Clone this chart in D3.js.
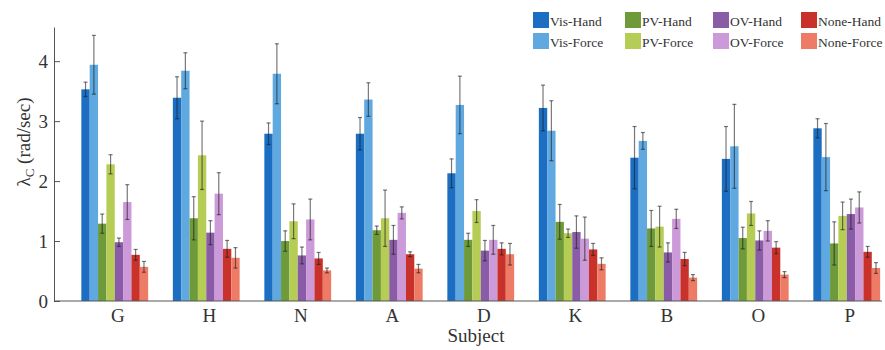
<!DOCTYPE html>
<html>
<head>
<meta charset="utf-8">
<script src="https://cdn.jsdelivr.net/npm/d3@7"></script>
<style>
  body { margin: 0; background: #fff; }
  text { font-family: "Liberation Serif", "Times New Roman", serif; fill: #333; }
</style>
</head>
<body>
<div id="chart"></div>
<script>
var subjects = ["G", "H", "N", "A", "D", "K", "B", "O", "P"];
var conditions = ["Vis-Hand", "Vis-Force", "PV-Hand", "PV-Force", "OV-Hand", "OV-Force", "None-Hand", "None-Force"];
var colors = ["#1b6ec2", "#5fa8e0", "#6e9a3a", "#b5cc55", "#8a5ca8", "#cc9ad8", "#c8322a", "#ee7b65"];

// mean per subject, in the order of conditions
var means = [
  [3.53, 3.94, 1.29, 2.28, 0.98, 1.65, 0.77, 0.57],
  [3.39, 3.84, 1.38, 2.43, 1.14, 1.79, 0.87, 0.72],
  [2.79, 3.79, 1.00, 1.33, 0.76, 1.36, 0.71, 0.51],
  [2.79, 3.36, 1.18, 1.38, 1.02, 1.47, 0.78, 0.54],
  [2.13, 3.27, 1.02, 1.50, 0.84, 1.02, 0.87, 0.78],
  [3.22, 2.84, 1.32, 1.13, 1.15, 1.04, 0.86, 0.62],
  [2.39, 2.67, 1.21, 1.24, 0.81, 1.37, 0.70, 0.39],
  [2.37, 2.58, 1.05, 1.46, 1.01, 1.17, 0.89, 0.44],
  [2.88, 2.40, 0.96, 1.42, 1.45, 1.56, 0.82, 0.55]
];
// error bar half length
var errs = [
  [0.12, 0.49, 0.16, 0.16, 0.07, 0.29, 0.09, 0.09],
  [0.35, 0.30, 0.36, 0.57, 0.20, 0.35, 0.14, 0.17],
  [0.18, 0.50, 0.17, 0.29, 0.14, 0.34, 0.10, 0.04],
  [0.27, 0.28, 0.07, 0.47, 0.24, 0.10, 0.04, 0.07],
  [0.24, 0.48, 0.11, 0.19, 0.17, 0.24, 0.10, 0.18],
  [0.38, 0.50, 0.29, 0.07, 0.27, 0.36, 0.10, 0.10],
  [0.52, 0.14, 0.30, 0.34, 0.16, 0.16, 0.11, 0.05],
  [0.54, 0.70, 0.18, 0.20, 0.16, 0.17, 0.10, 0.05],
  [0.16, 0.56, 0.36, 0.23, 0.25, 0.26, 0.09, 0.09]
];
var yTicks = [0, 1, 2, 3, 4];

var width = 885, height = 350;
var margin = {top: 27, right: 3, bottom: 49, left: 54};

var svg = d3.select("#chart").append("svg")
    .attr("width", width)
    .attr("height", height);

var x0 = d3.scaleBand()
    .domain(subjects)
    .range([69, 892.5])
    .paddingInner(0.27)
    .paddingOuter(0.135);

var x1 = d3.scaleBand()
    .domain(conditions)
    .range([0, x0.bandwidth()]);

var y = d3.scaleLinear()
    .domain([0, 4.57])
    .range([height - margin.bottom, margin.top]);

// bars
var groups = svg.append("g").selectAll("g")
    .data(subjects)
    .enter().append("g")
    .attr("transform", function(d) { return "translate(" + x0(d) + ",0)"; });

groups.selectAll("rect")
    .data(function(d, i) {
      return conditions.map(function(c, j) { return {c: c, j: j, v: means[i][j], e: errs[i][j]}; });
    })
    .enter().append("rect")
    .attr("x", function(d) { return x1(d.c); })
    .attr("width", x1.bandwidth())
    .attr("y", function(d) { return y(d.v); })
    .attr("height", function(d) { return y(0) - y(d.v); })
    .attr("fill", function(d) { return colors[d.j]; });

// error bars
var eb = groups.selectAll("g.err")
    .data(function(d, i) {
      return conditions.map(function(c, j) { return {c: c, v: means[i][j], e: errs[i][j]}; });
    })
    .enter().append("g")
    .attr("class", "err")
    .attr("stroke", "rgba(30,30,30,0.6)")
    .attr("stroke-width", 1.2)
    .attr("transform", function(d) { return "translate(" + (x1(d.c) + x1.bandwidth() / 2) + ",0)"; });

eb.append("line")
    .attr("y1", function(d) { return y(d.v - d.e); })
    .attr("y2", function(d) { return y(d.v + d.e); });
eb.append("line")
    .attr("x1", -2).attr("x2", 2)
    .attr("y1", function(d) { return y(d.v + d.e); })
    .attr("y2", function(d) { return y(d.v + d.e); });
eb.append("line")
    .attr("x1", -2).attr("x2", 2)
    .attr("y1", function(d) { return y(d.v - d.e); })
    .attr("y2", function(d) { return y(d.v - d.e); });

// y axis
var yAxis = svg.append("g")
    .attr("transform", "translate(" + margin.left + ",0)")
    .call(d3.axisLeft(y).tickValues(yTicks).tickFormat(d3.format("d"))
      .tickSizeInner(-6).tickSizeOuter(0).tickPadding(6));
yAxis.select(".domain").attr("stroke", "#555");
yAxis.selectAll(".tick line").attr("stroke", "#555");
yAxis.selectAll("text").attr("font-size", 19).attr("fill", "#333")
    .attr("font-family", "Liberation Serif");

// x axis
var xAxis = svg.append("g")
    .attr("transform", "translate(0," + y(0) + ")")
    .call(d3.axisBottom(x0).tickSize(0).tickPadding(8));
xAxis.select(".domain").remove();
xAxis.selectAll("text").attr("font-size", 19).attr("fill", "#333")
    .attr("font-family", "Liberation Serif")
    .attr("dx", 3);
svg.append("line")
    .attr("x1", margin.left).attr("x2", width - margin.right)
    .attr("y1", y(0)).attr("y2", y(0))
    .attr("stroke", "#555");

// axis titles
svg.append("text")
    .attr("x", 476).attr("y", 342)
    .attr("text-anchor", "middle")
    .attr("font-size", 19)
    .text("Subject");

var yl = svg.append("text")
    .attr("transform", "translate(30,142) rotate(-90)")
    .attr("text-anchor", "middle")
    .attr("font-size", 19);
yl.append("tspan").text("\u03bb");
yl.append("tspan").attr("font-size", 13).attr("dy", 4).text("C");
yl.append("tspan").attr("dy", -4).text(" (rad/sec)");

// legend
var legX = [533, 625, 713, 801];
var legend = svg.append("g").selectAll("g")
    .data(conditions)
    .enter().append("g")
    .attr("transform", function(d, i) {
      return "translate(" + legX[Math.floor(i / 2)] + "," + (12 + (i % 2) * 21) + ")";
    });
legend.append("rect")
    .attr("width", 16).attr("height", 16)
    .attr("fill", function(d, i) { return colors[i]; });
legend.append("text")
    .attr("x", 17).attr("y", 14)
    .attr("font-size", 13.5)
    .text(function(d) { return d; });
</script>
</body>
</html>
